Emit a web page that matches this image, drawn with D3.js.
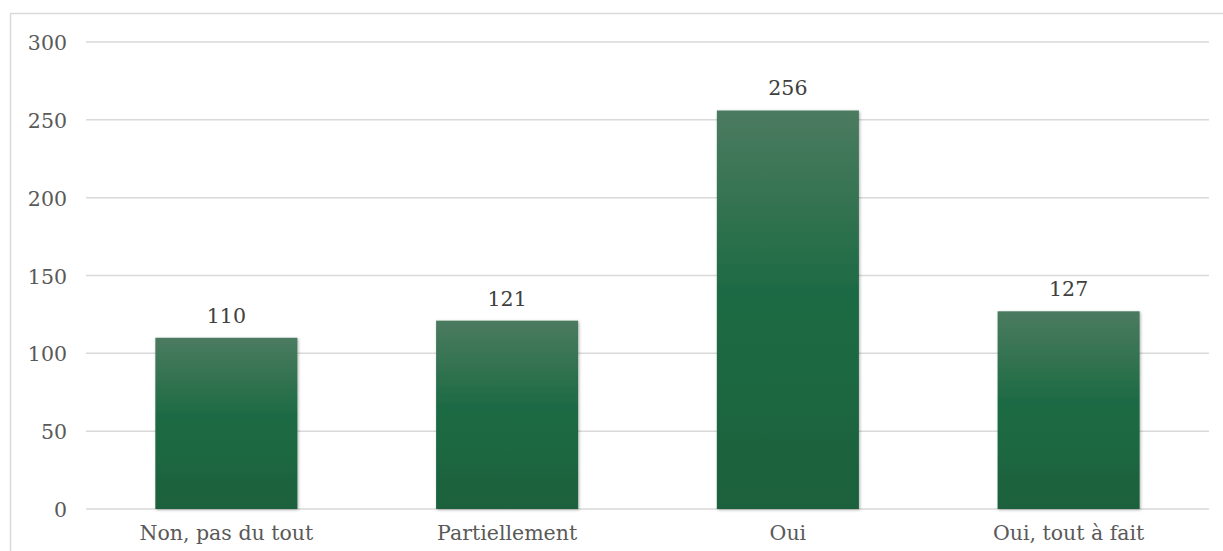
<!DOCTYPE html>
<html><head><meta charset="utf-8">
<script src="https://cdn.jsdelivr.net/npm/d3@7"></script>
<style>html,body{margin:0;padding:0;background:#fff;overflow:hidden}</style>
</head><body>
<svg id="c" width="1223" height="551"></svg>
<script>
const categories = ["Non, pas du tout", "Partiellement", "Oui", "Oui, tout à fait"];
const values = [110, 121, 256, 127];
const yTicks = [0, 50, 100, 150, 200, 250, 300];

(function () {
const svg = d3.select("#c");
const font = "'DejaVu Serif', serif";
const fs = 20.5;
const mLeft = 86, mRight = 1209, mTop = 42, mBottom = 509;

svg.append("rect").attr("x", 10.5).attr("y", 13.5).attr("width", 1240).attr("height", 600)
  .attr("fill", "#fff").attr("stroke", "#d9d9d9").attr("stroke-width", 1.5);

const defs = svg.append("defs");
const g = defs.append("linearGradient").attr("id", "bg").attr("x1", 0).attr("y1", 0).attr("x2", 0).attr("y2", 1);
g.append("stop").attr("offset", "0%").attr("stop-color", "#4b7b60");
g.append("stop").attr("offset", "45%").attr("stop-color", "#1e6b44");
g.append("stop").attr("offset", "100%").attr("stop-color", "#1a613c");
const f = defs.append("filter").attr("id", "sh").attr("x", "-10%").attr("y", "-10%").attr("width", "120%").attr("height", "120%");
f.append("feDropShadow").attr("dx", 1).attr("dy", 1).attr("stdDeviation", 1.5).attr("flood-color", "#000").attr("flood-opacity", 0.3);

const x = d3.scaleBand().domain(categories).range([mLeft, mRight]).paddingInner(0.494).paddingOuter(0.247);
const y = d3.scaleLinear().domain([0, 300]).range([mBottom, mTop]);

svg.append("g").selectAll("line").data(yTicks).join("line")
  .attr("x1", mLeft).attr("x2", mRight).attr("y1", d => y(d)).attr("y2", d => y(d))
  .attr("stroke", "#d9d9d9").attr("stroke-width", 1.5);

svg.append("g").selectAll("text").data(yTicks).join("text")
  .attr("x", 67).attr("y", d => y(d) + 8).attr("text-anchor", "end")
  .attr("font-family", font).attr("font-size", fs).attr("fill", "#595959").text(d => d);

svg.append("g").selectAll("rect").data(values).join("rect")
  .attr("x", (d, i) => x(categories[i])).attr("width", x.bandwidth())
  .attr("y", d => y(d)).attr("height", d => y(0) - y(d))
  .attr("fill", "url(#bg)").attr("filter", "url(#sh)");

svg.append("g").selectAll("text").data(values).join("text")
  .attr("x", (d, i) => x(categories[i]) + x.bandwidth() / 2).attr("y", d => y(d) - 15)
  .attr("text-anchor", "middle").attr("font-family", font).attr("font-size", fs)
  .attr("fill", "#404040").text(d => d);

svg.append("g").selectAll("text").data(categories).join("text")
  .attr("x", d => x(d) + x.bandwidth() / 2).attr("y", 540)
  .attr("text-anchor", "middle").attr("font-family", font).attr("font-size", fs)
  .attr("fill", "#595959").text(d => d);
})();
</script>
</body></html>
